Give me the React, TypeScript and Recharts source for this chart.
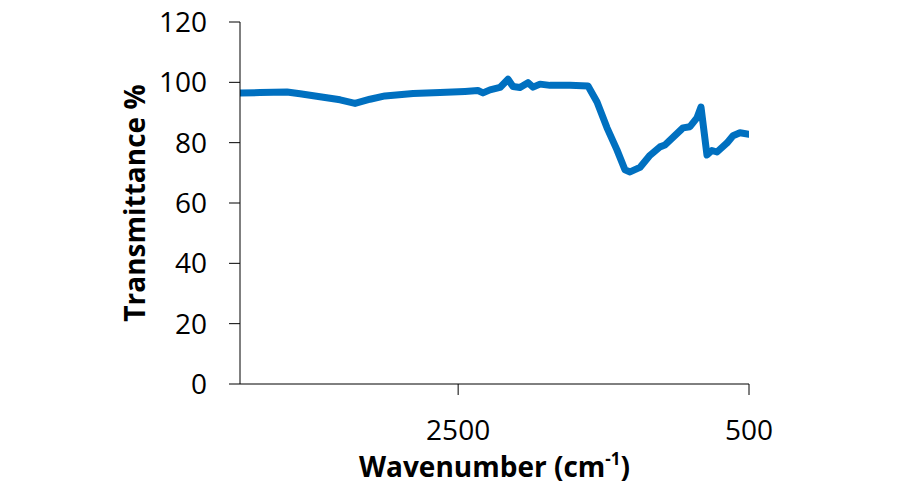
import { LineChart, Line, XAxis, YAxis, Label } from 'recharts';

// wavenumber (cm-1), high to low
const wavenumbers = [
  4000, 3862, 3677, 3587, 3450, 3312, 3209, 3106, 3003, 2810, 2625, 2453, 2364, 2329,
  2281, 2212, 2157, 2123, 2075, 2020, 1985, 1937, 1868, 1731, 1607, 1545, 1477, 1408,
  1353, 1318, 1250, 1181, 1112, 1078, 954, 906, 858, 830, 789, 755, 720, 651, 610, 562, 500,
];
const transmittance = [
  96.5, 96.6, 96.8, 96.2, 95.2, 94.2, 93.0, 94.4, 95.5, 96.3, 96.6, 97.0, 97.3, 96.5,
  97.5, 98.3, 101.0, 98.6, 98.3, 99.9, 98.4, 99.4, 99.0, 99.0, 98.8, 93.5, 85.0, 77.6,
  71.0, 70.3, 71.8, 75.8, 78.6, 79.2, 84.9, 85.3, 88.2, 91.8, 75.9, 77.4, 76.9, 79.9,
  82.3, 83.3, 82.8,
];
const xTicks = [2500, 500];
const yTicks = [0, 20, 40, 60, 80, 100, 120];

const data = wavenumbers.map((w, i) => ({ w, t: transmittance[i] }));

const FONT = '"Open Sans", sans-serif';

function XTitle({ viewBox }: any) {
  const cx = viewBox.x + viewBox.width / 2;
  const y = viewBox.y + 93;
  return (
    <text x={cx} y={y} textAnchor="middle" fontFamily={FONT} fontSize={28} fontWeight="bold" fill="#000">
      Wavenumber (cm
      <tspan fontSize={17} dy={-12}>-1</tspan>
      <tspan dy={12}>)</tspan>
    </text>
  );
}

function YTitle() {
  return (
    <text
      x={145}
      y={203}
      transform="rotate(-90 145 203)"
      textAnchor="middle"
      fontFamily={FONT}
      fontSize={28}
      fontWeight="bold"
      fill="#000"
    >
      Transmittance %
    </text>
  );
}

export default function App() {
  return (
    <div style={{ position: 'absolute', left: 0, top: 0, background: '#fff' }}>
      <LineChart width={900} height={484} data={data} margin={{ top: 22, right: 151, left: 0, bottom: 0 }}>
        <XAxis
          dataKey="w"
          type="number"
          domain={[500, 4000]}
          reversed
          ticks={xTicks}
          allowDataOverflow
          height={100}
          stroke="#000"
          tickSize={11}
          tickMargin={25}
          tick={{ fontSize: 28, fontFamily: FONT, fill: '#000' }}
        >
          <Label content={<XTitle />} />
        </XAxis>
        <YAxis
          type="number"
          domain={[0, 120]}
          ticks={yTicks}
          width={240}
          stroke="#000"
          tickSize={11}
          tickMargin={22}
          tick={{ fontSize: 28, fontFamily: FONT, fill: '#000' }}
        >
          <Label content={<YTitle />} />
        </YAxis>
        <Line
          type="linear"
          dataKey="t"
          stroke="#0070C0"
          strokeWidth={7}
          strokeLinejoin="round"
          strokeLinecap="round"
          dot={false}
          isAnimationActive={false}
        />
      </LineChart>
    </div>
  );
}
